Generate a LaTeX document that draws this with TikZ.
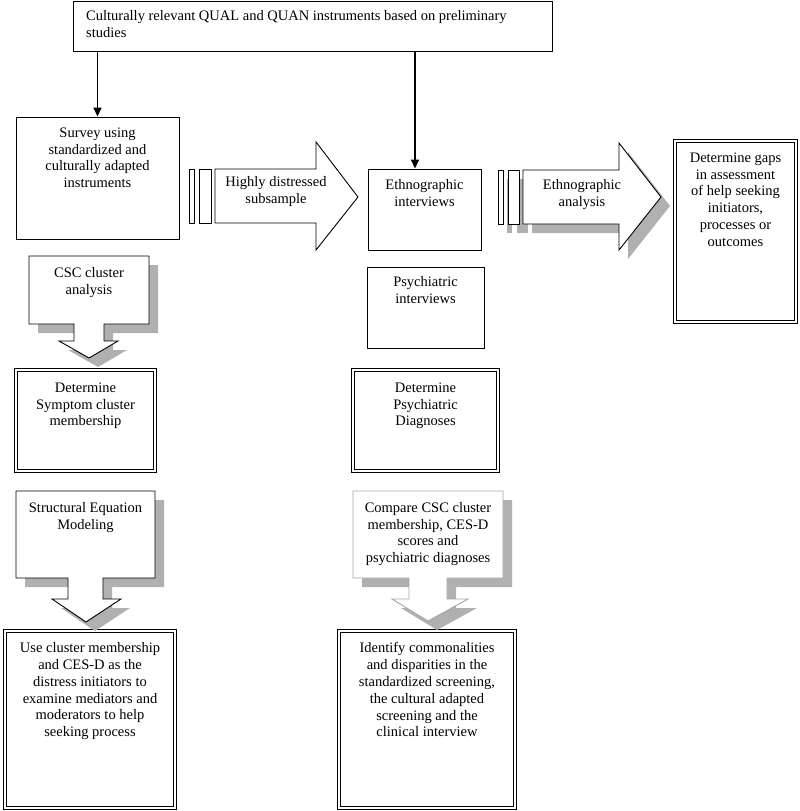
\documentclass[tikz,border=0pt]{standalone}
\usepackage{fontspec}
\setmainfont{Liberation Serif}
\usepackage{tikz}
\usetikzlibrary{positioning}
\usetikzlibrary{arrows.meta,shadows}
\newcommand{\bodyfont}{\fontsize{14.5}{16.8}\selectfont}

\tikzset{
	box/.style={draw, line width=0.9pt, fill=white, inner sep=0pt},
	dbox/.style={draw, double, double distance=2pt, line width=1.2pt, fill=white, inner sep=0pt},
	txt/.style={align=center, inner sep=0pt, font=\bodyfont},
	blockarrow/.style={draw, line width=0.9pt, fill=white, line join=miter},
	shade/.style={drop shadow={shadow xshift=9pt, shadow yshift=-9pt, fill=gray!62, opacity=1}},
	conn/.style={line width=1.5pt, -{Triangle[width=8pt,length=9pt]}},
}

\begin{document}
\begin{tikzpicture}[x=1pt,y=-1pt]
	\useasboundingbox (0,0) rectangle (800,811);

	% ---------------------
	% Boxes
	\node[box, minimum width=479, minimum height=50, anchor=north west] (Instruments) at (73,0.5) {};
	\node[box, minimum width=163, minimum height=122] (Survey)    at (97.5,178) {};
	\node[box, minimum width=113, minimum height=81]  (Ethno)     at (424.5,209.5) {};
	\node[box, minimum width=117, minimum height=81]  (Psych)     at (425.5,307.5) {};

	\node[dbox, minimum width=121, minimum height=181] (Gaps)      at (735.5,231.5) {};
	\node[dbox, minimum width=139, minimum height=101] (Symptom)   at (85.5,420.5) {};
	\node[dbox, minimum width=145, minimum height=101] (Diagnoses) at (425.5,420.5) {};
	\node[dbox, minimum width=170, minimum height=177] (UseCluster) at (90,719.5) {};
	\node[dbox, minimum width=176, minimum height=177] (Identify)  at (427,719.5) {};

	% ---------------------
	% Box texts
	\path (Instruments.north west) +(13,9.5) coordinate (InstrumentsText);
	\node[txt, align=left, anchor=north west] (InstrumentsLabel) at (InstrumentsText)
		{Culturally relevant QUAL and QUAN instruments based on preliminary\\studies};

	\node[txt, below=11pt of Survey.north] (SurveyLabel)
		{Survey using\\standardized and\\culturally adapted\\instruments};
	\node[txt, below=11pt of Ethno.north] (EthnoLabel) {Ethnographic\\interviews};
	\node[txt, below=10pt of Psych.north] (PsychLabel) {Psychiatric\\interviews};
	\node[txt, below=12pt of Gaps.north] (GapsLabel)
		{Determine gaps\\in assessment\\of help seeking\\initiators,\\processes or\\outcomes};
	\node[txt, below=13pt of Symptom.north] (SymptomLabel)
		{Determine\\Symptom cluster\\membership};
	\node[txt, below=13pt of Diagnoses.north] (DiagnosesLabel)
		{Determine\\Psychiatric\\Diagnoses};
	\node[txt, below=12pt of UseCluster.north] (UseClusterLabel)
		{Use cluster membership\\and CES-D as the\\distress initiators to\\examine mediators and\\moderators to help\\seeking process};
	\node[txt, below=12pt of Identify.north] (IdentifyLabel)
		{Identify commonalities\\and disparities in the\\standardized screening,\\the cultural adapted\\screening and the\\clinical interview};

	% ---------------------
	% Arrows from the instruments
	\draw[conn] (Instruments.south -| Survey.north) -- (Survey.north);
	\path (Ethno.north) +(-9.5,0) coordinate (EthnoIn);
	\draw[conn] (EthnoIn |- Instruments.south) -- (EthnoIn);

	% ------------------------------------------------
	% Block arrow: highly distressed subsample
	\draw[blockarrow] (189,169) rectangle (194,223);
	\draw[blockarrow] (199,169) rectangle (211,223);
	\draw[blockarrow] (215,169) -- (316,169) -- (316,142) -- (358,197)
		-- (316,250) -- (316,223) -- (215,223) -- cycle;
	\node[txt, anchor=north] (SubsampleLabel) at (276,176) {Highly distressed\\subsample};

	% Block arrow: ethnographic analysis
	\draw[blockarrow, shade] (498,170) rectangle (503,224);
	\draw[blockarrow, shade] (508,170) rectangle (519,224);
	\draw[blockarrow, shade] (523,170) -- (619,170) -- (619,143) -- (661,197)
		-- (619,250) -- (619,224) -- (523,224) -- cycle;
	\node[txt, anchor=north] (AnalysisLabel) at (582,179) {Ethnographic\\analysis};

	% ------------------------------------------------
	% Block arrows downwards
	\draw[blockarrow, shade] (29,256) -- (149,256) -- (149,324) -- (104,324) -- (104,341)
		-- (118,341) -- (89,358) -- (59,341) -- (74,341) -- (74,324) -- (29,324) -- cycle;
	\node[txt, anchor=north] (ClusterLabel) at (89,267) {CSC cluster\\analysis};

	\draw[blockarrow, shade] (16,491) -- (155,491) -- (155,578) -- (103,578) -- (103,599)
		-- (121,599) -- (86,622) -- (52,599) -- (68,599) -- (68,578) -- (16,578) -- cycle;
	\node[txt, anchor=north] (ModelingLabel) at (85.5,502) {Structural Equation\\Modeling};

	\draw[blockarrow, shade, draw=gray!70] (353,491) -- (503,491) -- (503,578) -- (447,578) -- (447,599)
		-- (468,599) -- (428,621) -- (392,599) -- (409,599) -- (409,578) -- (353,578) -- cycle;
	\node[txt, anchor=north] (CompareLabel) at (428,502)
		{Compare CSC cluster\\membership, CES-D\\scores and\\psychiatric diagnoses};

\end{tikzpicture}
\end{document}
